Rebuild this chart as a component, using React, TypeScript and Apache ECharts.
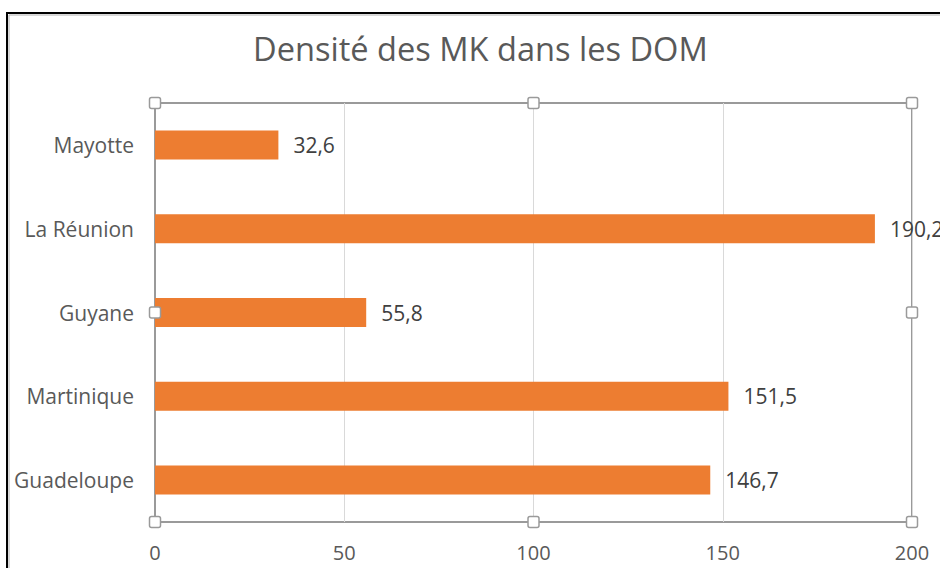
import React, { useEffect, useRef } from "react";
import * as echarts from "echarts";

const titleText = "Densité des MK dans les DOM";
const categories = ["Guadeloupe", "Martinique", "Guyane", "La Réunion", "Mayotte"];
const values = [146.7, 151.5, 55.8, 190.2, 32.6];
const xTicks = { min: 0, max: 200, interval: 50 };

const W = 940;
const H = 568;
const G = { left: 155, right: 28, top: 103, bottom: 46 };

export default function App() {
  const ref = useRef<HTMLDivElement>(null);
  useEffect(() => {
    document.body.style.margin = "0";
    const chart = echarts.init(ref.current!, null, { renderer: "svg" });
    const x0 = G.left;
    const x1 = W - G.right;
    const y0 = G.top;
    const y1 = H - G.bottom;
    const xm = (x0 + x1) / 2;
    const ym = (y0 + y1) / 2;
    const handlePts = [
      [x0, y0], [xm, y0], [x1, y0],
      [x0, ym], [x1, ym],
      [x0, y1], [xm, y1], [x1, y1],
    ];
    const hs = 11;
    const handles = handlePts.map(([hx, hy]) => ({
      type: "rect",
      shape: { x: hx - hs / 2, y: hy - hs / 2, width: hs, height: hs, r: 2 },
      style: { fill: "#ffffff", stroke: "#9a9a9a", lineWidth: 1.5 },
      z: 100,
    }));
    chart.setOption({
      animation: false,
      backgroundColor: "#ffffff",
      textStyle: { fontFamily: "'Open Sans', sans-serif" },
      title: {
        text: titleText,
        left: 248,
        top: 27,
        textStyle: {
          fontFamily: "'Open Sans', sans-serif",
          fontSize: 32.6,
          fontWeight: "normal",
          color: "#595959",
        },
      },
      grid: {
        left: G.left,
        right: G.right,
        top: G.top,
        bottom: G.bottom,
        show: true,
        borderColor: "#9a9a9a",
        borderWidth: 2,
        containLabel: false,
      },
      xAxis: {
        type: "value",
        min: xTicks.min,
        max: xTicks.max,
        interval: xTicks.interval,
        axisLine: { show: false },
        axisTick: { show: false },
        splitLine: { show: true, lineStyle: { color: "#d9d9d9", width: 1 } },
        axisLabel: {
          color: "#595959",
          fontSize: 20,
          margin: 20,
          fontFamily: "'Open Sans', sans-serif",
        },
      },
      yAxis: {
        type: "category",
        data: categories,
        axisLine: { show: true, lineStyle: { color: "#9a9a9a", width: 2 } },
        axisTick: { show: false },
        axisLabel: {
          color: "#595959",
          fontSize: 21,
          margin: 21,
          fontFamily: "'Open Sans', sans-serif",
        },
      },
      series: [
        {
          type: "bar",
          data: values,
          barWidth: 29,
          itemStyle: { color: "#ED7D31" },
          label: {
            show: true,
            position: "right",
            distance: 15,
            color: "#404040",
            fontSize: 21,
            fontFamily: "'Open Sans', sans-serif",
            formatter: (p: any) => String(p.value).replace(".", ","),
          },
        },
      ],
      graphic: [
        {
          type: "rect",
          shape: { x: 7, y: 13, width: 2000, height: 2000 },
          style: { fill: "none", stroke: "#000000", lineWidth: 2 },
          z: 100,
        },
        {
          type: "rect",
          shape: { x: 9, y: 15, width: 2000, height: 2000 },
          style: { fill: "none", stroke: "#b0b0b0", lineWidth: 1 },
          z: 100,
        },
        ...handles,
      ],
    });
    return () => chart.dispose();
  }, []);
  return (
    <div
      ref={ref}
      style={{ position: "absolute", left: 0, top: 0, width: W, height: H }}
    />
  );
}
